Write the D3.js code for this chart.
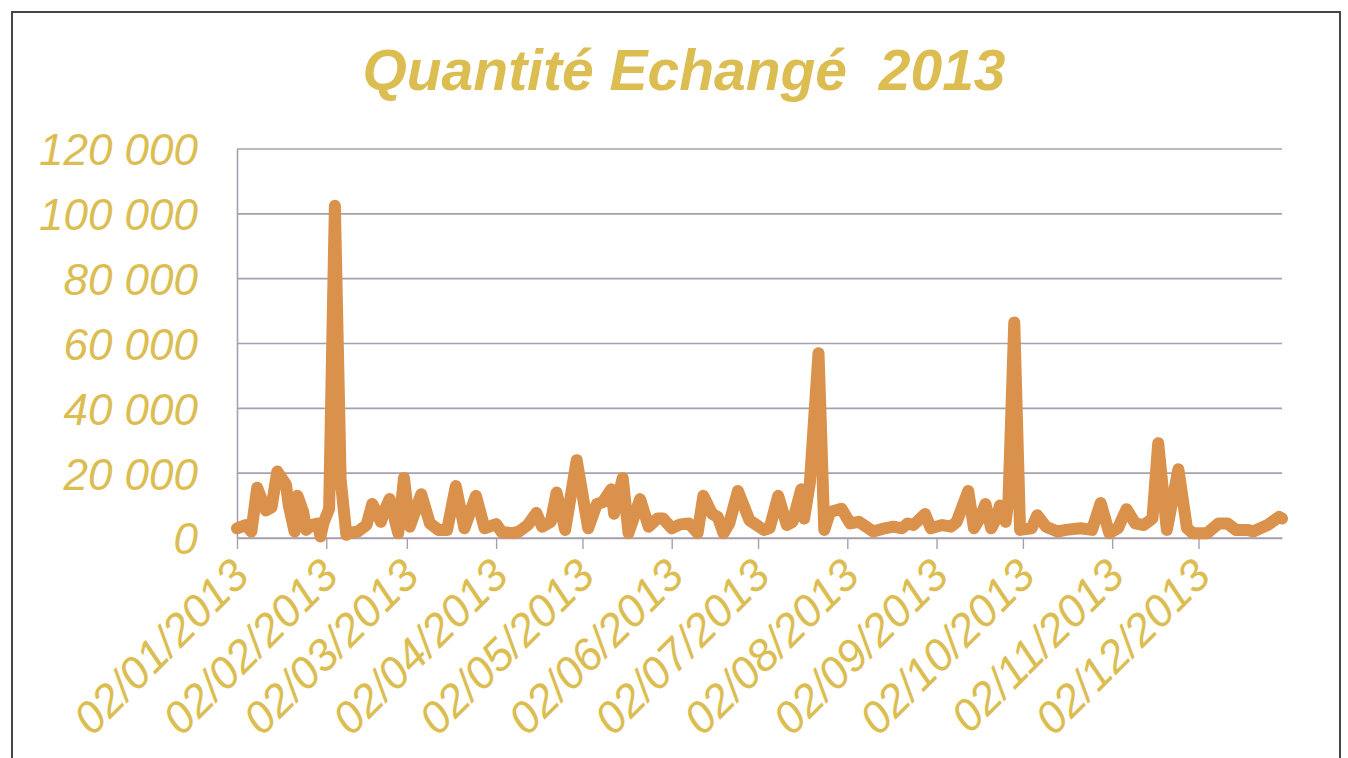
<!DOCTYPE html>
<html>
<head>
<meta charset="utf-8">
<script src="https://cdn.jsdelivr.net/npm/d3@7"></script>
<style>
  body { margin: 0; background: #fff; }
  svg { display: block; }
</style>
</head>
<body>
<div id="chart"></div>
<script>

// traded quantity per session
var dates = [
  "2013-01-02","2013-01-05","2013-01-07","2013-01-09","2013-01-12","2013-01-14","2013-01-16","2013-01-19",
  "2013-01-20","2013-01-22","2013-01-23","2013-01-25","2013-01-26","2013-01-28","2013-01-30","2013-01-31",
  "2013-02-01","2013-02-03","2013-02-05","2013-02-07","2013-02-09","2013-02-10","2013-02-13","2013-02-16",
  "2013-02-18","2013-02-21","2013-02-22","2013-02-24","2013-02-27","2013-03-01","2013-03-03","2013-03-07",
  "2013-03-10","2013-03-13","2013-03-16","2013-03-19","2013-03-22","2013-03-26","2013-03-29","2013-04-02",
  "2013-04-04","2013-04-08","2013-04-10","2013-04-13","2013-04-16","2013-04-18","2013-04-21","2013-04-23",
  "2013-04-26","2013-04-30","2013-05-04","2013-05-07","2013-05-09","2013-05-12","2013-05-13","2013-05-16",
  "2013-05-18","2013-05-22","2013-05-25","2013-05-28","2013-05-30","2013-06-02","2013-06-05","2013-06-08",
  "2013-06-11","2013-06-13","2013-06-16","2013-06-18","2013-06-20","2013-06-22","2013-06-25","2013-06-29",
  "2013-07-04","2013-07-06","2013-07-09","2013-07-12","2013-07-14","2013-07-17","2013-07-18","2013-07-20",
  "2013-07-23","2013-07-25","2013-07-27","2013-07-31","2013-08-03","2013-08-06","2013-08-11","2013-08-15",
  "2013-08-18","2013-08-21","2013-08-23","2013-08-25","2013-08-29","2013-08-31","2013-09-04","2013-09-07",
  "2013-09-09","2013-09-13","2013-09-15","2013-09-17","2013-09-19","2013-09-21","2013-09-23","2013-09-24",
  "2013-09-26","2013-09-27","2013-09-29","2013-10-01","2013-10-05","2013-10-07","2013-10-10","2013-10-14",
  "2013-10-17","2013-10-22","2013-10-26","2013-10-29","2013-11-01","2013-11-04","2013-11-07","2013-11-10",
  "2013-11-13","2013-11-16","2013-11-18","2013-11-21","2013-11-25","2013-11-28","2013-11-30","2013-12-05",
  "2013-12-09","2013-12-12","2013-12-15","2013-12-19","2013-12-21","2013-12-26","2013-12-30","2013-12-31"
];

var quantities = [
  3000, 4000, 2000, 15500, 8500, 9500, 20500, 16500,
  10000, 2000, 13000, 8000, 2500, 4000, 4500, 500,
  4500, 9000, 102500, 18000, 1000, 1500, 2000, 4000,
  10500, 5000, 8000, 12000, 1500, 18500, 3500, 13500,
  4500, 2500, 2500, 16000, 3000, 13000, 3000, 4300,
  1800, 1500, 2000, 4000, 7700, 3500, 5000, 14000,
  2500, 24000, 3000, 10500, 11000, 15000, 7500, 18500,
  1500, 12000, 3500, 6000, 6000, 3000, 4200, 4500,
  1500, 13000, 7500, 6500, 1500, 4500, 14500, 5500,
  2500, 3000, 13000, 4000, 5000, 15000, 6000, 17000,
  57000, 2500, 8000, 9000, 4500, 5000, 2000, 3000,
  3500, 3000, 4500, 4000, 7400, 3000, 4000, 3500,
  5000, 14500, 3000, 6000, 10500, 3000, 6500, 10000,
  5000, 12000, 66500, 2500, 3000, 7000, 3500, 2000,
  2500, 3000, 2500, 10800, 1500, 3000, 8900, 4500,
  4000, 6000, 29200, 2500, 21200, 3000, 1500, 1500,
  4500, 4500, 2500, 2500, 2000, 4000, 6500, 6000
];

var yTicks = [0, 20000, 40000, 60000, 80000, 100000, 120000];
var xTickDates = ["2013-01-02","2013-02-02","2013-03-02","2013-04-02","2013-05-02","2013-06-02",
                  "2013-07-02","2013-08-02","2013-09-02","2013-10-02","2013-11-02","2013-12-02"];

var chartTitle = "Quantité Echangé\u00a0 2013";

var W = 1348, H = 758;
var margin = {top: 149, right: 66, bottom: 220, left: 237},
    width = W - margin.left - margin.right,
    height = H - margin.top - margin.bottom;

var parse = d3.timeParse("%Y-%m-%d");
var data = dates.map(function(d, i) { return {date: parse(d), value: quantities[i]}; });

var gold = "#dbbd52";
var lineColor = "#d9914c";
var gridColor = "#a7a0ae";
var fontFam = "'Liberation Sans', Arial, sans-serif";

var svg = d3.select("#chart")
  .append("svg")
  .attr("width", W)
  .attr("height", H);

// outer frame
svg.append("rect")
  .attr("x", 12).attr("y", 12)
  .attr("width", 1328).attr("height", 770)
  .attr("fill", "none")
  .attr("stroke", "#4a4250")
  .attr("stroke-width", 2);

// title
svg.append("text")
  .attr("x", 684)
  .attr("y", 90)
  .attr("text-anchor", "middle")
  .style("font-family", fontFam)
  .style("font-style", "italic")
  .style("font-weight", "bold")
  .style("font-size", "57px")
  .style("fill", gold)
  .text(chartTitle);

var g = svg.append("g")
  .attr("transform", "translate(" + margin.left + "," + margin.top + ")");

var x = d3.scaleTime()
  .domain([parse("2013-01-02"), parse("2013-12-31")])
  .range([0, width]);

var y = d3.scaleLinear()
  .domain([0, 120000])
  .range([height, 0]);

var fr = d3.formatLocale({decimal: ",", thousands: " ", grouping: [3], currency: ["", " €"]});
var fmtY = fr.format(",d");

// horizontal gridlines
g.append("g")
  .selectAll("line")
  .data(yTicks)
  .enter()
  .append("line")
  .attr("x1", 0)
  .attr("x2", width)
  .attr("y1", function(d) { return y(d); })
  .attr("y2", function(d) { return y(d); })
  .attr("stroke", gridColor)
  .attr("stroke-width", 1.6);

// Y axis
var yAxis = g.append("g")
  .call(d3.axisLeft(y).tickValues(yTicks).tickFormat(fmtY).tickSize(0).tickPadding(39));
yAxis.select(".domain").attr("stroke", gridColor).attr("stroke-width", 1.6);
yAxis.selectAll("text")
  .attr("dy", "0.36em")
  .style("font-family", fontFam)
  .style("font-style", "italic")
  .style("font-size", "44px")
  .style("fill", gold);

// X axis
var xAxis = g.append("g")
  .attr("transform", "translate(0," + height + ")")
  .call(d3.axisBottom(x)
    .tickValues(xTickDates.map(parse))
    .tickFormat(d3.timeFormat("%d/%m/%Y"))
    .tickSize(11)
    .tickSizeOuter(0));
xAxis.select(".domain").attr("stroke", gridColor).attr("stroke-width", 1.6);
xAxis.selectAll(".tick line").attr("stroke", gridColor).attr("stroke-width", 1.4);
xAxis.selectAll("text")
  .attr("text-anchor", "end")
  .attr("dy", null)
  .attr("y", 0)
  .attr("transform", "translate(14,40) rotate(-45)")
  .style("font-family", fontFam)
  .style("font-style", "italic")
  .style("font-size", "45px")
  .style("fill", gold);

// the series
var line = d3.line()
  .x(function(d) { return x(d.date); })
  .y(function(d) { return y(d.value); });

g.append("path")
  .datum(data)
  .attr("d", line)
  .attr("fill", "none")
  .attr("stroke", lineColor)
  .attr("stroke-width", 12)
  .attr("stroke-linejoin", "round")
  .attr("stroke-linecap", "round");

</script>
</body>
</html>
